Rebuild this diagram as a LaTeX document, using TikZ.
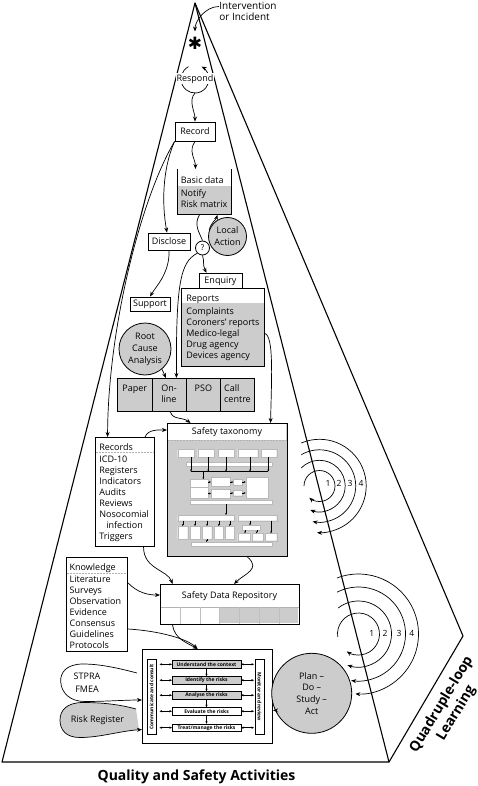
\documentclass[tikz,border=0pt]{standalone}
\usepackage{fontspec}
\setmainfont{Open Sans}
\newfontfamily\symbolfont{DejaVu Sans}
\usetikzlibrary{arrows.meta}

\definecolor{panel}{gray}{0.8}
\tikzset{
	box/.style={draw, line width=0.9pt, inner sep=0pt, font=\fontsize{9}{11}\selectfont},
	frame/.style={draw, line width=1.1pt, inner sep=0pt, anchor=north west},
	txt/.style={font=\fontsize{9}{11}\selectfont, align=left, inner sep=0pt, anchor=north west},
	blob/.style={circle, draw, line width=0.8pt, fill=panel, inner sep=0pt, align=center},
	tx/.style={draw=gray!55, fill=white, line width=0.4pt},
	tiny/.style={-{Stealth[length=2pt,width=1.8pt]}, line width=0.35pt},
	minitip/.style={>={Stealth[length=2.6pt,width=2.2pt]}, line width=0.45pt},
	stage/.style={draw, line width=0.5pt, minimum width=68.5pt, minimum height=7.3pt, inner sep=0pt, font=\bfseries\fontsize{5}{6}\selectfont},
	side/.style={draw, line width=0.5pt, fill=white, minimum width=74.7pt, minimum height=8.5pt, inner sep=0pt, font=\bfseries\fontsize{5}{6}\selectfont},
	loopnum/.style={font=\fontsize{8.5}{10}\selectfont, inner sep=0pt},
}

\begin{document}
\begin{tikzpicture}[x=1pt, y=-1pt, line width=0.7pt, >={Stealth[length=5pt,width=4pt]}]
	\useasboundingbox (0,0) rectangle (478,786);
	% pyramid
	\draw[line width=1.1pt, line join=round] (195,3) -- (2,762) -- (389,762) -- cycle;
	\draw[line width=1.1pt, line join=round] (195,3) -- (463,636) -- (389,762);

	% learning loops
	\coordinate (loopA) at (319.5,486);
	\coordinate (loopB) at (358.5,634);
	\draw[->] ([shift={(180:15.5pt)}]loopA) arc[start angle=180, end angle=-131, radius=15.5pt];
	\draw[->] ([shift={(135:25.7pt)}]loopA) arc[start angle=135, end angle=-111, radius=25.7pt];
	\draw[->] ([shift={(120:36.2pt)}]loopA) arc[start angle=120, end angle=-101, radius=36.2pt];
	\draw[->] ([shift={(113:46.7pt)}]loopA) arc[start angle=113, end angle=-93, radius=46.7pt];
	\node[loopnum] (a1) at (328,483.5) {1};
	\node[loopnum] (a2) at (339,483.5) {2};
	\node[loopnum] (a3) at (350,483.5) {3};
	\node[loopnum] (a4) at (361,483.5) {4};
	\draw[->] ([shift={(188:21pt)}]loopB) arc[start angle=188, end angle=-124, radius=21pt];
	\draw[->] ([shift={(128:33pt)}]loopB) arc[start angle=128, end angle=-109.5, radius=33pt];
	\draw[->] ([shift={(117:47pt)}]loopB) arc[start angle=117, end angle=-99, radius=47pt];
	\draw[->] ([shift={(111:60pt)}]loopB) arc[start angle=111, end angle=-93, radius=60pt];
	\node[loopnum] (b1) at (371.7,633.5) {1};
	\node[loopnum] (b2) at (385,633.5) {2};
	\node[loopnum] (b3) at (399,633.5) {3};
	\node[loopnum] (b4) at (411.7,633.5) {4};

	% top of the pyramid
	\node[txt, font=\fontsize{10}{11}\selectfont] (incident) at (219,1.5) {Intervention\\or Incident};
	\node[font=\symbolfont\fontsize{17}{17}\selectfont, inner sep=0pt] (star) at (195,43) {✱};
	\coordinate (respondloop) at (195,79);
	\draw[->] ([shift={(118:14pt)}]respondloop) arc[start angle=118, end angle=422, radius=14pt];
	\node[fill=white, inner sep=1pt, font=\fontsize{9}{11}\selectfont] (respond) at (195,79) {Respond};
	\node[box, minimum width=40pt, minimum height=19pt] (record) at (195,131.5) {Record};

	% basic data
	\node[frame, line width=0.9pt, fill=panel, minimum width=54pt, minimum height=45pt] (basic) at (177,169) {};
	\fill[white] (177.5,169.5) rectangle (230.5,186);
	\node[txt] (basichead) at (180.5,176.5) {Basic data};
	\node[txt] (basiclist) at (180.5,189) {Notify\\Risk matrix};
	\node[blob, minimum size=38pt, font=\fontsize{9}{12}\selectfont] (localact) at (227.5,236.5) {Local\\Action};
	\node[circle, draw, line width=0.8pt, fill=white, minimum size=14pt, inner sep=0pt, font=\fontsize{8}{8}\selectfont] (query) at (202.5,248) {?};
	\node[box, minimum width=42pt, minimum height=17pt] (disclose) at (169,241.5) {Disclose};
	\node[box, minimum width=40pt, minimum height=14pt] (support) at (150,304) {Support};
	\node[box, minimum width=43pt, minimum height=15pt] (enquiry) at (220.5,280.8) {Enquiry};

	% reports
	\node[frame, line width=0.9pt, fill=panel, minimum width=83pt, minimum height=78pt] (reports) at (181,288) {};
	\fill[white] (181.5,288.5) rectangle (263.5,303.3);
	\node[txt] (reportshead) at (186,294.8) {Reports};
	\node[txt] (reportslist) at (186,307.2) {Complaints\\Coroners’ reports\\Medico-legal\\Drug agency\\Devices agency};
	\node[blob, minimum size=52pt, font=\fontsize{9}{12}\selectfont] (rca) at (145,349) {Root\\Cause\\Analysis};

	% reporting channels
	\node[frame, line width=0.9pt, fill=panel, minimum width=137pt, minimum height=33pt] (channels) at (117,378) {};
	\draw[line width=0.9pt] (152.3,378) -- (152.3,411) (186,378) -- (186,411) (220.7,378) -- (220.7,411);
	\node[txt, anchor=north] (paper) at (134.7,384.5) {Paper};
	\node[txt, anchor=north] (online) at (169,384.5) {On-\\line};
	\node[txt, anchor=north] (pso) at (203.4,384.5) {PSO};
	\node[txt, anchor=north] (callcentre) at (237.5,384.5) {Call\\centre};

	% safety taxonomy
	\node[frame, fill=panel, minimum width=120pt, minimum height=133pt] (taxonomy) at (167,423) {};
	\fill[white] (167.6,423.6) rectangle (286.4,440);
	\draw[gray!60, densely dotted, line width=0.5pt] (167.6,440) -- (286.4,440);
	\node[font=\fontsize{9}{11}\selectfont, inner sep=0pt] (taxhead) at (227,432) {Safety taxonomy};
	\draw[tx] (177.7,449.3) rectangle (194.3,457.3) (197.7,449.3) rectangle (214.3,457.3) (218.3,449.3) rectangle (234.3,457.3) (237.7,449.3) rectangle (257.7,457.3) (261,449.3) rectangle (276.7,457.3);
	\draw[tx] (185.7,461.7) rectangle (272.3,466);
	\draw[line width=0.35pt] (191,471.5) -- (268.3,471.5);
	\draw[tiny] (191,457.3) -- (191,471.5);
	\draw[tiny] (208.3,457.3) -- (208.3,471.5);
	\draw[tiny] (226,457.3) -- (226,471.5);
	\draw[tiny] (250,457.3) -- (250,471.5);
	\draw[tiny] (268.3,457.3) -- (268.3,471.5);
	\draw[tiny] (203.3,471.5) -- (203.3,479.3);
	\draw[tx] (190,479.3) rectangle (208.3,486.7) (190,486.7) rectangle (208.3,498.3);
	\draw[tx] (211,477.3) rectangle (230,486) (211,489.3) rectangle (230,498.3);
	\draw[tx] (233.3,479.3) rectangle (242.3,485) (233.3,490) rectangle (242.3,495.7);
	\draw[tx] (245.7,477.3) rectangle (267.7,498.3);
	\draw[tiny] (208.3,482) -- (211,482);
	\draw[tiny] (208.3,493.5) -- (211,493.5);
	\draw[tiny] (230,482) -- (233.3,482);
	\draw[tiny] (230,493) -- (233.3,493);
	\draw[tiny] (242.3,482) -- (245.7,482);
	\draw[tiny] (242.3,493) -- (245.7,493);
	\draw[tx] (190,500) rectangle (272.3,504);
	\draw[tiny] (226,504) -- (226,515);
	\draw[tx] (177.7,515) rectangle (234.3,520.7) (237.7,515) rectangle (276.7,520.7);
	\draw[tx] (177.7,526) rectangle (187.7,539.3) (190,526) rectangle (200,539.3) (202.3,526) rectangle (211.7,539.3) (214.3,526) rectangle (223.3,539.3) (225,526) rectangle (234.3,539.3);
	\draw[tiny] (182.7,520.7) -- (182.7,526);
	\draw[tiny] (195,520.7) -- (195,526);
	\draw[tiny] (207,520.7) -- (207,526);
	\draw[tiny] (218.8,520.7) -- (218.8,526);
	\draw[tiny] (229.7,520.7) -- (229.7,526);
	\draw[tx] (241.7,525.3) rectangle (260,530);
	\draw[tiny] (250,520.7) -- (250,525.3);
	\draw[tx] (237.7,533.3) rectangle (250,540.7) (251.7,533.3) rectangle (263.3,540.7) (265,533.3) rectangle (276.7,540.7);
	\draw[tiny] (245,530) -- (245,533.3);
	\draw[tiny] (256.7,530) -- (256.7,533.3);
	\draw[tiny] (271,520.7) -- (271,533.3);
	\draw[tx] (191,542) rectangle (272,546);
	\draw[tiny] (206.7,539.3) -- (206.7,542);

	% records and knowledge
	\node[frame, fill=white, minimum width=59pt, minimum height=109pt] (records) at (95,437) {};
	\draw[gray!60, densely dotted, line width=0.5pt] (95.6,452) -- (153.4,452);
	\node[txt] (recordshead) at (99,443.2) {Records};
	\node[txt] (recordslist) at (99,455.8) {ICD-10\\Registers\\Indicators\\Audits\\Reviews\\Nosocomial\\\hspace*{7pt}infection\\Triggers};
	\node[frame, fill=white, minimum width=61pt, minimum height=94pt] (knowledge) at (66,557) {};
	\draw[gray!60, densely dotted, line width=0.5pt] (66.6,573) -- (126.4,573);
	\node[txt] (knowledgehead) at (69.3,563.2) {Knowledge};
	\node[txt] (knowledgelist) at (69.3,575.8) {Literature\\Surveys\\Observation\\Evidence\\Consensus\\Guidelines\\Protocols};

	% safety data repository
	\node[frame, fill=white, minimum width=139pt, minimum height=40pt] (repository) at (160,584) {};
	\fill[panel] (219.6,607) rectangle (298.4,623.4);
	\draw[gray!60, line width=0.5pt] (160.5,607) -- (298.5,607);
	\draw[gray!50, line width=0.4pt] (179.9,607) -- (179.9,623.5) (199.7,607) -- (199.7,623.5) (219.6,607) -- (219.6,623.5) (239.4,607) -- (239.4,623.5) (259.3,607) -- (259.3,623.5) (279.1,607) -- (279.1,623.5);
	\node[font=\fontsize{9}{11}\selectfont, inner sep=0pt] (repohead) at (229.5,596) {Safety Data Repository};

	% risk management process
	\node[frame, fill=white, minimum width=130pt, minimum height=94pt] (riskproc) at (142,649) {};
	\node[side, rotate=90] (consult) at (151.5,696.7) {Communicate and consult};
	\node[side, rotate=-90] (monitor) at (259.5,696.7) {Monitor and review};
	\node[stage, fill=panel] (context) at (206.5,664.3) {Understand the context};
	\node[stage, fill=panel] (identify) at (206.5,680.2) {Identify the risks};
	\node[stage, fill=panel] (analyse) at (206.5,695.2) {Analyse the risks};
	\node[stage, fill=white] (evaluate) at (206.5,711.2) {Evaluate the risks};
	\node[stage, fill=white] (treat) at (206.5,727.7) {Treat/manage the risks};
	\draw[minitip, ->] (context) -- (identify);
	\draw[minitip, ->] (identify) -- (analyse);
	\draw[minitip, ->] (analyse) -- (evaluate);
	\draw[minitip, ->] (evaluate) -- (treat);
	\draw[minitip, <->, shorten <=3.5pt] (consult.south |- context.west) -- (context.west);
	\draw[minitip, <->, shorten <=3.5pt] (consult.south |- identify.west) -- (identify.west);
	\draw[minitip, <->, shorten <=3.5pt] (consult.south |- analyse.west) -- (analyse.west);
	\draw[minitip, <->, shorten <=3.5pt] (consult.south |- evaluate.west) -- (evaluate.west);
	\draw[minitip, <->, shorten <=3.5pt] (consult.south |- treat.west) -- (treat.west);
	\draw[minitip, <->, shorten >=1pt] (context.east) -- (monitor.south |- context.east);
	\draw[minitip, <->, shorten >=1pt] (identify.east) -- (monitor.south |- identify.east);
	\draw[minitip, <->, shorten >=1pt] (analyse.east) -- (monitor.south |- analyse.east);
	\draw[minitip, <->, shorten >=1pt] (evaluate.east) -- (monitor.south |- evaluate.east);
	\draw[minitip, <->, shorten >=1pt] (treat.east) -- (monitor.south |- treat.east);

	% inputs to the process
	\draw[->] (137,673) .. controls (118,668) and (100,664) .. (83,664) .. controls (66,664) and (60,673) .. (60.7,682) .. controls (61.5,693) and (70,701.5) .. (85,701.5) .. controls (105,701.5) and (125,700) .. (riskproc.west |- 0,700);
	\node[font=\fontsize{9}{12.5}\selectfont, align=center, inner sep=0pt] (stpra) at (87,682.5) {STPRA\\FMEA};
	\fill[panel] (136,709) .. controls (118,704) and (100,702.5) .. (83,702.5) .. controls (66,702.5) and (60,711) .. (60,720) .. controls (60,730) and (66,737.5) .. (80,737.5) .. controls (100,737.5) and (120,731) .. (139,729.5) -- cycle;
	\draw[->] (136,709) .. controls (118,704) and (100,702.5) .. (83,702.5) .. controls (66,702.5) and (60,711) .. (60,720) .. controls (60,730) and (66,737.5) .. (80,737.5) .. controls (100,737.5) and (120,731) .. (riskproc.west |- 0,729.5);
	\node[font=\fontsize{9}{11}\selectfont, inner sep=0pt] (register) at (97.5,720.5) {Risk Register};
	\node[blob, minimum size=80pt, font=\fontsize{9}{11.7}\selectfont] (pdsa) at (311.7,693.3) {Plan –\\Do –\\Study –\\Act};
	\draw[->] (pdsa.205) -- (riskproc.east |- pdsa.205);

	% labels
	\node[rotate=59, font=\bfseries\fontsize{14}{17}\selectfont, align=center, inner sep=0pt] (quad) at (449,709) {Quadruple-loop\\Learning};
	\node[font=\bfseries\fontsize{14}{16}\selectfont, inner sep=0pt] (title) at (196.5,777) {Quality and Safety Activities};

	% connectors
	\draw[->] ([yshift=-5pt]incident.north west) .. controls +(-14,0) and +(0,-10) .. ([yshift=5pt]star.north);
	\draw[->] ([yshift=-14pt]respondloop) .. controls +(-7,8) and +(0,-10) .. (record.north);
	\draw[->] (record.south) .. controls +(-7,10) and +(0,-10) .. ([xshift=-9pt]basic.north);
	\draw[->] (record.south west) .. controls (140,200) and (108,330) .. ([xshift=-17.5pt]records.north);
	\draw[->] (record.south west) .. controls (162,170) and (162,205) .. ([xshift=-2pt]disclose.north);
	\draw ([xshift=-5pt]basic.south) .. controls +(-6,10) and +(-3,-8) .. (query.north);
	\draw[->] (localact.160) .. controls +(2,-8) and +(-2,6) .. ([xshift=13pt]basic.south);
	\draw[->] (query.south) .. controls +(2,6) and +(-4,-8) .. ([xshift=-14pt]enquiry.north);
	\draw[->] (query.south west) .. controls (180,262) and (176,285) .. ([xshift=-9.5pt]channels.north);
	\draw[->] (disclose.south) .. controls +(1,22) and +(6,-10) .. (support.north);
	\draw[->] (rca.-50) -- ([xshift=-20pt]channels.north);
	\draw[->] ([xshift=-15.5pt]channels.south) .. controls +(2,8) and +(-8,-6) .. ([xshift=-37pt]taxonomy.north);
	\draw[->] ([yshift=-6pt]reports.east) .. controls +(9,3) and +(1,-45) .. ([xshift=43pt]taxonomy.north);
	\draw[->] ([xshift=20pt]records.north) .. controls +(3,-8) and +(-8,0) .. ([yshift=-7pt]taxonomy.north west);
	\draw[->] ([xshift=18.5pt]records.south) .. controls +(0,22) and +(-5,-14) .. ([xshift=-57.5pt]repository.north);
	\draw[->] ([xshift=20pt]taxonomy.south) .. controls +(14,12) and +(10,-10) .. ([xshift=4pt]repository.north);
	\draw[->] ([yshift=-26pt]knowledge.north east) .. controls +(10,10) and +(-12,0) .. ([yshift=-11pt]repository.north west);
	\draw[->] ([yshift=-72pt]knowledge.north east) .. controls +(32,2) and +(-10,-10) .. ([xshift=-10pt]riskproc.north);
	\draw[->] ([xshift=-57.5pt]repository.south) .. controls +(2,14) and +(-10,-6) .. ([xshift=-10pt]riskproc.north);
\end{tikzpicture}
\end{document}
